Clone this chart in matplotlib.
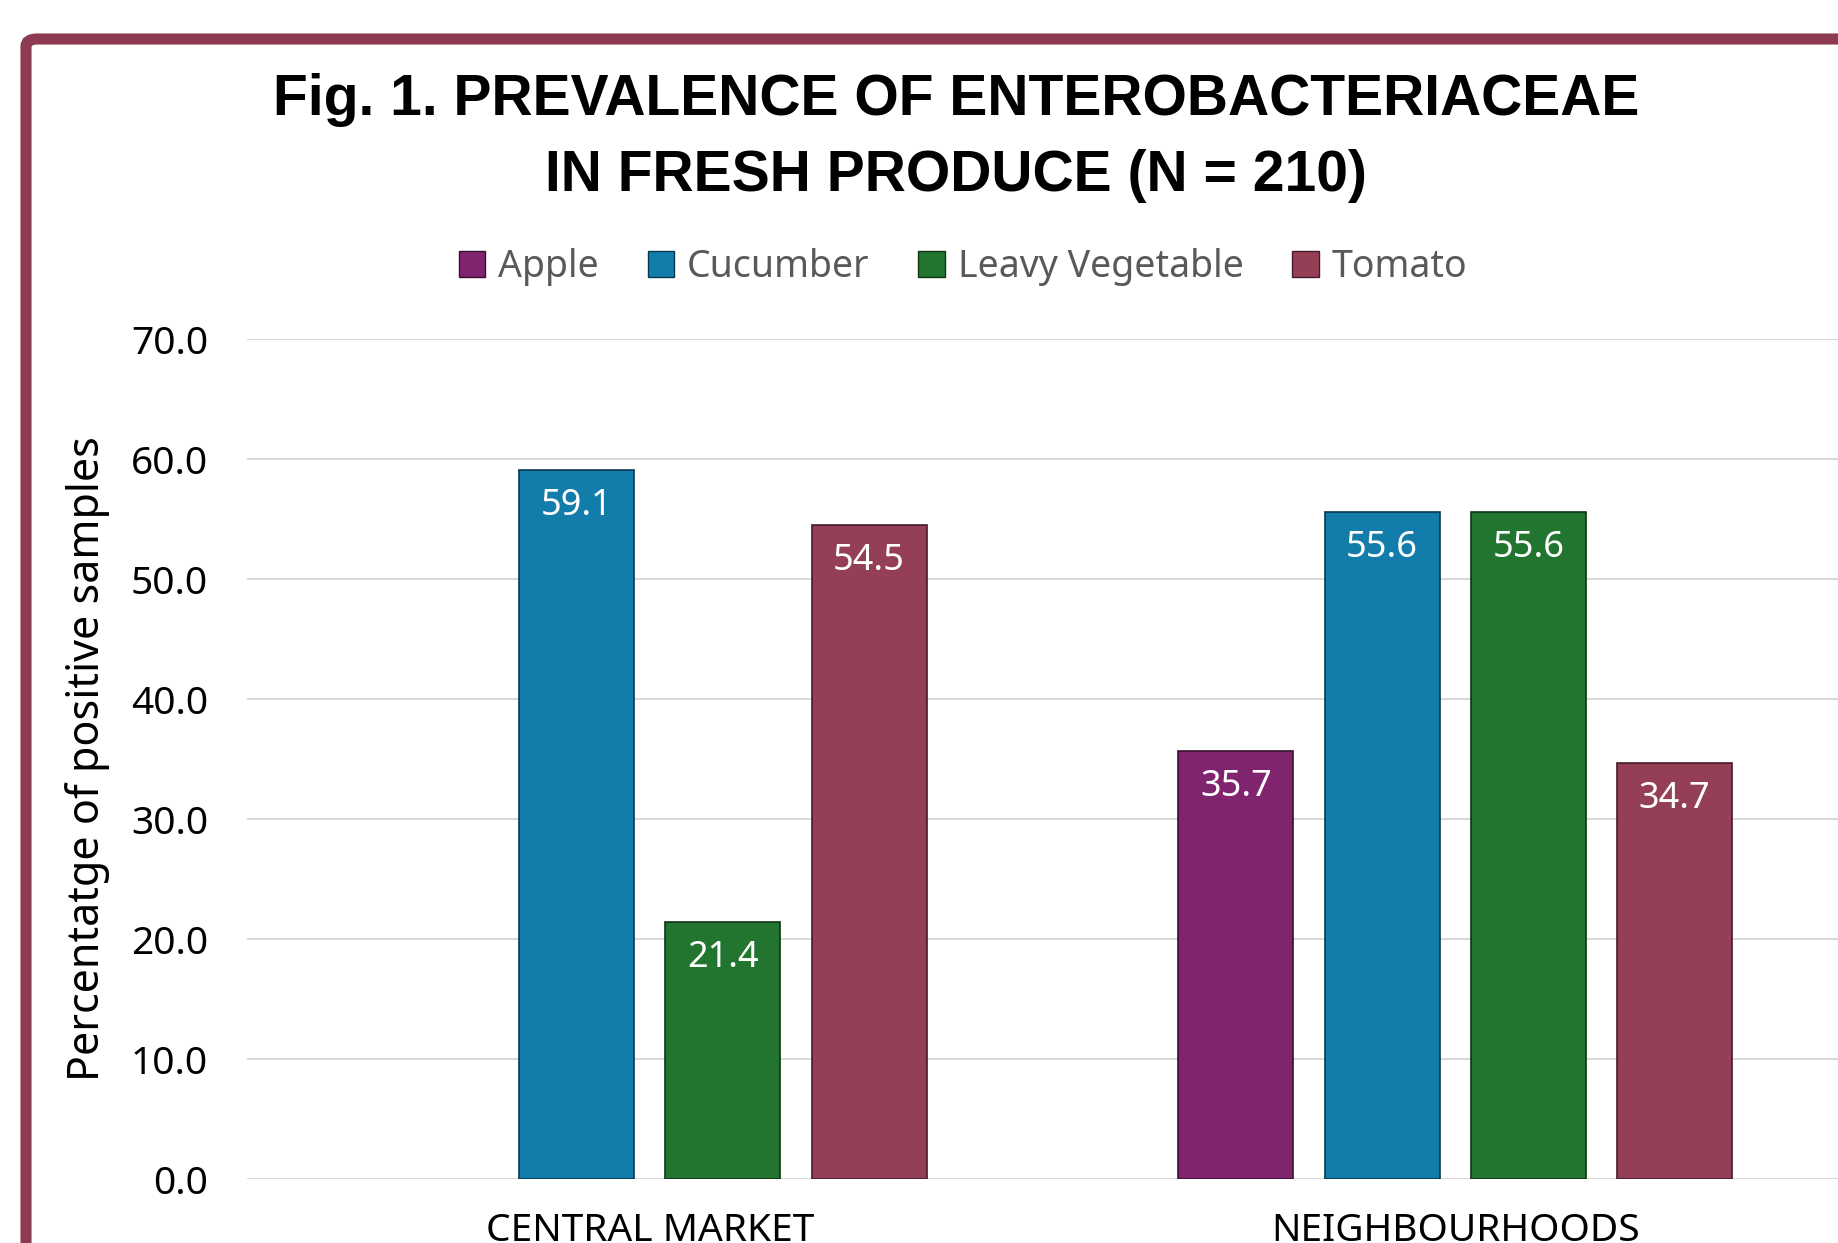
import numpy as np
import matplotlib
matplotlib.use("Agg")
import matplotlib.pyplot as plt
from matplotlib.colors import to_rgb
from matplotlib.patches import FancyBboxPatch, Patch

plt.rcParams["font.family"] = ["Noto Sans", "DejaVu Sans"]

# Data
markets = ["CENTRAL MARKET", "NEIGHBOURHOODS"]
produce = ["Apple", "Cucumber", "Leavy Vegetable", "Tomato"]
apple = [0.0, 35.7]
cucumber = [59.1, 55.6]
leafy = [21.4, 55.6]
tomato = [54.5, 34.7]
colors = ["#80246F", "#127DAA", "#21752F", "#943F56"]


def darker(c, f=0.45):
    r, g, b = to_rgb(c)
    return (r * f, g * f, b * f)


W, H = 1838, 1243
fig = plt.figure(figsize=(W / 100, H / 100), dpi=100)

# Axes extends past the right edge, as in the cropped reference
left, right, top, bottom = 247, 1858, 339, 1179
ax = fig.add_axes([left / W, 1 - bottom / H, (right - left) / W, (bottom - top) / H])

x = np.arange(len(markets))
step = 0.1815
width = 0.1427
series = [apple, cucumber, leafy, tomato]
for i, (name, vals, c) in enumerate(zip(produce, series, colors)):
    pos = x + (i - 1.5) * step
    lws = [1.2 if v > 0 else 0 for v in vals]
    ax.bar(pos, vals, width, color=c, edgecolor=darker(c), linewidth=lws, zorder=3)
    for px, v in zip(pos, vals):
        if v > 0:
            ax.annotate(f"{v:.1f}", (px, v), xytext=(0, -26), textcoords="offset points",
                        ha="center", va="center", color="white", fontsize=26, zorder=4)

ax.set_xlim(-0.5, 1.5)
ax.set_ylim(0, 70)
ax.set_yticks(np.arange(0, 71, 10))
ax.set_yticklabels([f"{t:.1f}" for t in np.arange(0, 71, 10)], fontsize=28)
ax.set_xticks(x)
ax.set_xticklabels(markets, fontsize=28)
ax.tick_params(axis="both", length=0)
ax.tick_params(axis="y", pad=28)
ax.tick_params(axis="x", pad=24)
ax.grid(axis="y", color="#D9D9D9", linewidth=1.5, zorder=0)
for s in ax.spines.values():
    s.set_visible(False)

ax.set_ylabel("Percentatge of positive samples", fontsize=31)
ax.yaxis.set_label_coords(-0.085, 0.5)

# Title
title_kw = dict(ha="center", va="center", fontsize=41, fontweight="bold",
                family=["Liberation Sans", "DejaVu Sans"])
fig.text(956 / W, 1 - 100 / H, "Fig. 1. PREVALENCE OF ENTEROBACTERIACEAE", **title_kw)
fig.text(956 / W, 1 - 176 / H, "IN FRESH PRODUCE (N = 210)", **title_kw)

# Legend
handles = [Patch(facecolor=c, edgecolor=darker(c), linewidth=1.0) for c in colors]
fig.legend(handles, produce, loc="center", bbox_to_anchor=(963 / W, 1 - 267 / H),
           ncol=4, frameon=False, fontsize=27, labelcolor="#595959",
           handlelength=0.7, handleheight=0.7, handletextpad=0.35, columnspacing=1.3)

# Outer frame (rounded, cut off at right/bottom)
frame = FancyBboxPatch((26 / W, -0.1), 1.2, 1 - 39 / H + 0.1,
                       boxstyle="round,pad=0,rounding_size=0.006",
                       transform=fig.transFigure, fill=False,
                       edgecolor="#8E3A52", linewidth=8, clip_on=False)
fig.patches.append(frame)

fig.savefig("out.png", dpi=100)
